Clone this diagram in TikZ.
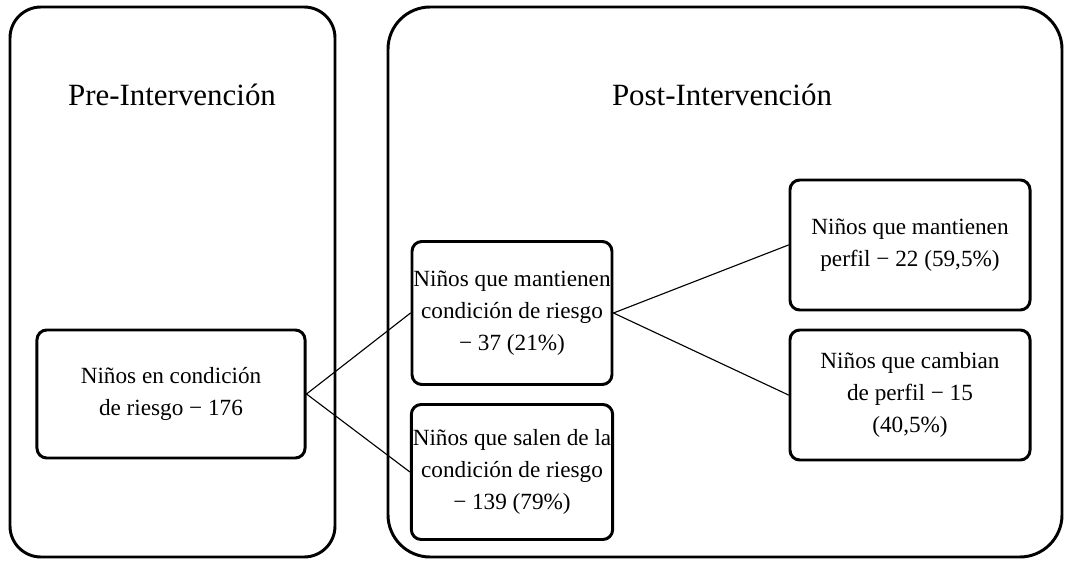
\documentclass[tikz,border=0pt]{standalone}
\usepackage{fontspec}
\setmainfont{Liberation Serif}
\usetikzlibrary{positioning}
\tikzset{
  panel/.style={draw, line width=2.1pt},
  titulo/.style={font=\fontsize{22}{26}\selectfont},
  caja/.style={draw, line width=2.1pt, rounded corners=7pt, align=center, inner sep=1pt,
    font=\fontsize{16.5}{23}\selectfont},
  enlace/.style={line width=0.8pt}
}
\begin{document}
\begin{tikzpicture}[line cap=round,line join=round, x=0.025cm, y=-0.025cm]
\useasboundingbox (0,0) rectangle (1069,563);
% paneles
\draw[panel, rounded corners=22pt] (10,7) rectangle (335,557);
\draw[panel, rounded corners=30pt] (388,7) rectangle (1062,557);
\node[titulo] (pre) at (172,95) {Pre-Intervención};
\node[titulo] (post) at (722,95) {Post-Intervención};
% cajas
\node[caja, minimum width=6.7cm, minimum height=3.2cm] (inicio) at (171,394)
  {Niños en condición\\de riesgo − 176};
\node[caja, minimum width=4.95cm, minimum height=3.575cm] (mantienen) at (512,313)
  {Niños que mantienen\\condición de riesgo\\− 37 (21\%)};
\node[caja, minimum width=4.95cm, minimum height=3.375cm] (salen) at (512,472)
  {Niños que salen de la\\condición de riesgo\\− 139 (79\%)};
\node[caja, minimum width=6cm, minimum height=3.25cm] (perfil) at (910,245)
  {Niños que mantienen\\perfil − 22 (59,5\%)};
\node[caja, minimum width=6cm, minimum height=3.25cm] (cambian) at (910,395)
  {Niños que cambian\\de perfil − 15\\(40,5\%)};
% enlaces
\draw[enlace] (inicio.east) -- (mantienen.west);
\draw[enlace] (inicio.east) -- (salen.west);
\draw[enlace] (mantienen.east) -- (perfil.west);
\draw[enlace] (mantienen.east) -- (cambian.west);
\end{tikzpicture}
\end{document}
